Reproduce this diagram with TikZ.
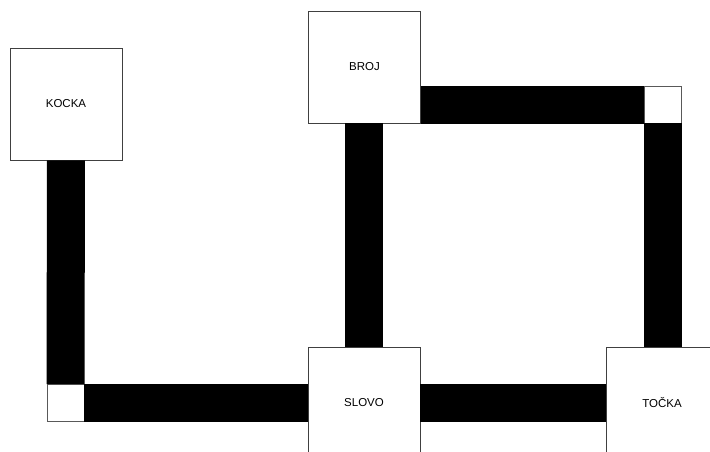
\documentclass[tikz,border=0pt]{standalone}
\usepackage{fontspec}
\setmainfont{Liberation Sans}
\begin{document}
\begin{tikzpicture}[x=1pt,y=-1pt,
  box/.style={draw=black!75,line width=0.8pt,fill=white,minimum size=112pt,inner sep=0pt,font=\fontsize{11.5}{13}\selectfont},
  corner/.style={draw=black!65,line width=0.8pt,fill=white,minimum size=37pt,inner sep=0pt},
  bar/.style={line width=38pt,black,line cap=butt}]
\useasboundingbox (0,0) rectangle (710,451);
\clip (0,0) rectangle (710,451);
\node[box] (kocka) at (66,104) {\raisebox{2pt}{KOCKA}};
\node[box] (broj) at (364.5,67) {\raisebox{-2.5pt}{BROJ}};
\node[box] (slovo) at (364,403) {\raisebox{-4pt}{SLOVO}};
\node[box] (tocka) at (662,403) {\raisebox{-1.5pt}{TOČKA}};
\node[corner] (c1) at (65.5,403) {};
\node[corner] (c2) at (663,104.5) {};
\draw[bar] (kocka.south) -- (c1.north);
\draw[bar] (c1.east) -- (slovo.west);
\draw[bar] (slovo.north) -- (broj.south -| slovo.north);
\draw[bar] (c2.west) -- (c2.west -| broj.east);
\draw[bar] (c2.south) -- (c2.south |- tocka.north);
\draw[bar] (slovo.east) -- (tocka.west);
\end{tikzpicture}
\end{document}
